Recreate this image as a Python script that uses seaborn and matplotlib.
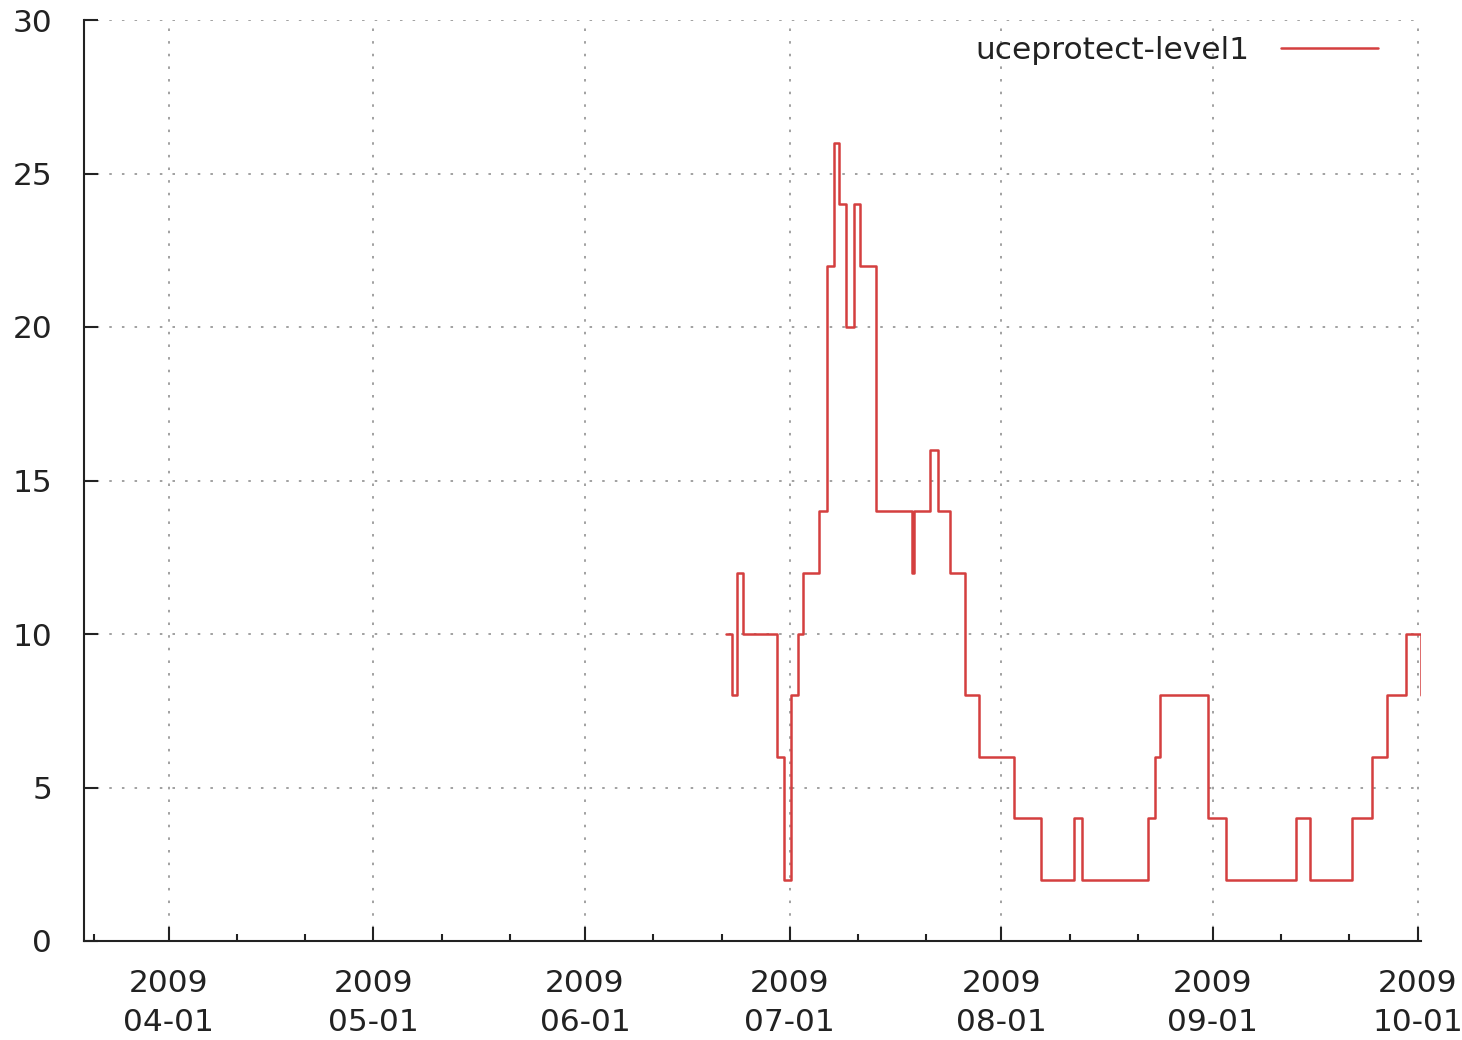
import matplotlib
matplotlib.use("Agg")
import numpy as np
import pandas as pd
import matplotlib.pyplot as plt
import matplotlib.dates as mdates
import seaborn as sns

# ---- data ----
series_name = "uceprotect-level1"
change_times = [
    "2009-06-21 15:00", "2009-06-22 12:00", "2009-06-23 05:00", "2009-06-24 02:00",
    "2009-06-29 03:00", "2009-06-30 03:00", "2009-07-01 04:00", "2009-07-02 05:00",
    "2009-07-03 00:00", "2009-07-05 08:00", "2009-07-06 12:00", "2009-07-07 10:00",
    "2009-07-08 04:00", "2009-07-09 05:00", "2009-07-10 09:00", "2009-07-11 07:00",
    "2009-07-13 16:00", "2009-07-18 21:00", "2009-07-19 04:00", "2009-07-21 14:00",
    "2009-07-22 18:00", "2009-07-24 10:00", "2009-07-26 15:00", "2009-07-28 17:00",
    "2009-08-02 21:00", "2009-08-06 18:00", "2009-08-11 16:00", "2009-08-12 20:00",
    "2009-08-22 12:00", "2009-08-23 12:00", "2009-08-24 05:00", "2009-08-31 07:00",
    "2009-09-02 22:00", "2009-09-13 06:00", "2009-09-15 05:00", "2009-09-21 09:00",
    "2009-09-24 08:00", "2009-09-26 14:00", "2009-09-29 09:00", "2009-10-01 12:00",
]
listed_counts = [
    10, 8, 12, 10,
    6, 2, 8, 10,
    12, 14, 22, 26,
    24, 20, 24, 22,
    14, 12, 14, 16,
    14, 12, 8, 6,
    4, 2, 4, 2,
    4, 6, 8, 4,
    2, 4, 2, 4,
    6, 8, 10, 8,
]
x_start = "2009-03-19 14:00"
x_end = "2009-10-01 12:00"
y_ticks = [0, 5, 10, 15, 20, 25, 30]

# ---- style ----
sns.set_theme(style="white")
plt.rcParams["font.family"] = ["DejaVu Sans"]
text_color = "#222222"
line_color = "#d43f3f"
font_size = 22.5

df = pd.DataFrame({"time": pd.to_datetime(change_times), "count": listed_counts})

fig = plt.figure(figsize=(14.62, 10.40), dpi=100)
ax = fig.add_axes([84 / 1462, 99 / 1040, (1421 - 84) / 1462, (941 - 20) / 1040])

sns.lineplot(data=df, x="time", y="count", drawstyle="steps-post",
             color=line_color, linewidth=1.8, label=series_name, ax=ax,
             estimator=None, sort=True, zorder=3)

ax.set_xlim(pd.Timestamp(x_start), pd.Timestamp(x_end))
ax.set_ylim(y_ticks[0], y_ticks[-1])
ax.set_yticks(y_ticks)

ax.xaxis.set_major_locator(mdates.MonthLocator())
ax.xaxis.set_minor_locator(mdates.DayLocator(bymonthday=[11, 21]))
ax.xaxis.set_major_formatter(mdates.DateFormatter("%Y\n%m-%d"))
ax.set_xlabel("")
ax.set_ylabel("")

ax.grid(True, which="major", color="#9a9a9a", linestyle=(0, (1.4, 5.6)), linewidth=1.3, zorder=0)
ax.set_axisbelow(True)

for side in ["top", "right"]:
    ax.spines[side].set_visible(False)
for side in ["left", "bottom"]:
    ax.spines[side].set_color(text_color)
    ax.spines[side].set_linewidth(1.5)

ax.tick_params(axis="both", which="major", direction="in", length=10, width=1.5,
               color=text_color, labelsize=font_size, labelcolor=text_color,
               bottom=True, left=True, top=False, right=False)
ax.tick_params(axis="y", which="major", pad=23)
ax.tick_params(axis="x", which="major", pad=20)
ax.tick_params(axis="x", which="minor", direction="in", length=5, width=1.5,
               color=text_color, bottom=True, top=False)

fig.canvas.draw()
for lab in ax.get_xticklabels():
    lab.set_linespacing(1.45)

leg = ax.legend(loc="upper right", bbox_to_anchor=(0.984, 1.006), frameon=False,
                markerfirst=False, handlelength=3.1, handletextpad=1.0,
                borderaxespad=0.3, fontsize=font_size, labelcolor=text_color)
for h in leg.get_lines():
    h.set_linewidth(1.8)

fig.savefig("out.png", dpi=100, facecolor="white")
